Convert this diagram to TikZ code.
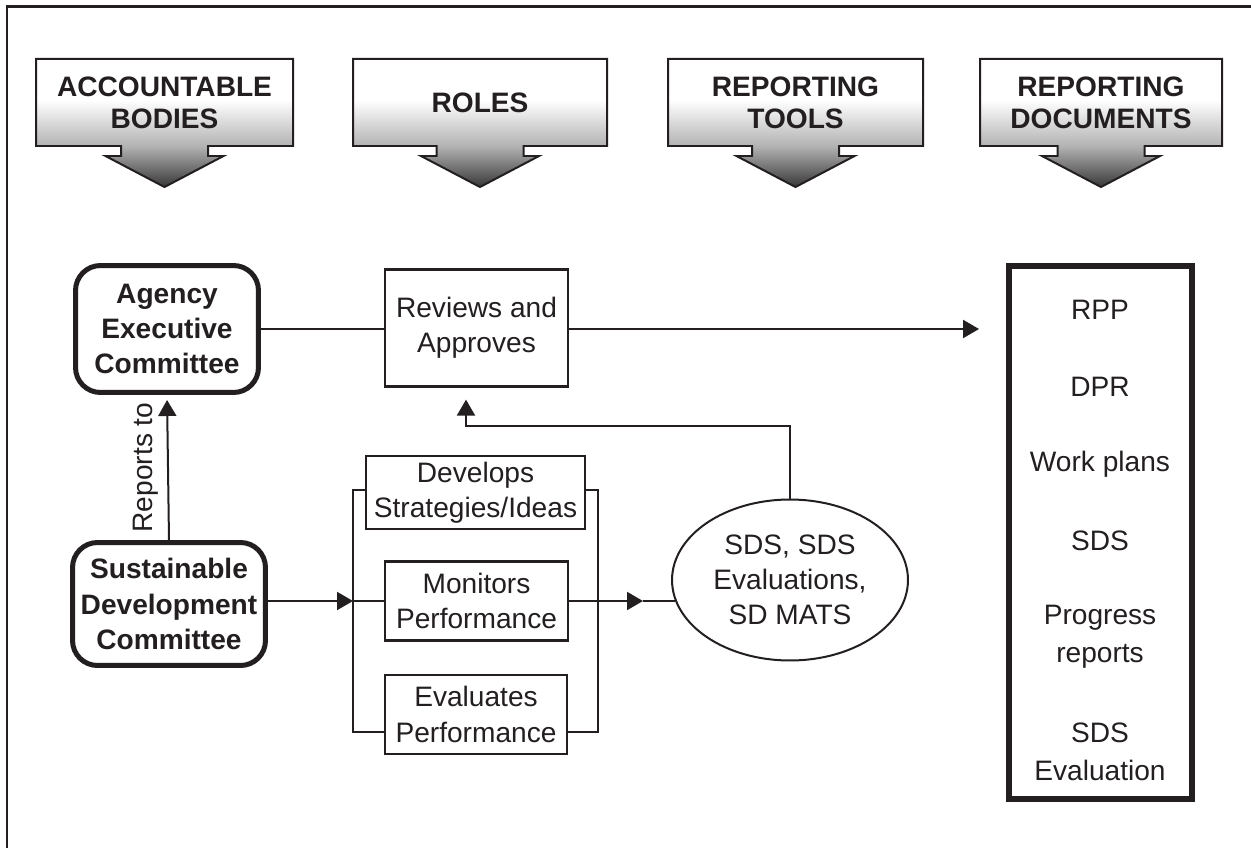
\documentclass[tikz,border=0pt]{standalone}
\usepackage{fontspec}
\setmainfont{Liberation Sans}
\usetikzlibrary{arrows.meta, positioning, calc, shapes.geometric}
\definecolor{inkgray}{RGB}{35, 31, 32}
\pgfdeclareverticalshading{headshade}{100bp}{color(0bp)=(black!78); color(25bp)=(black!78); color(41bp)=(black!30); color(59bp)=(white); color(75bp)=(white); color(100bp)=(white)}
\tikzset{
  headarrow/.style={shading=headshade, draw=inkgray, line width=0.04cm},
  headtext/.style={font=\fontsize{16}{18}\selectfont\bfseries, align=center, text=inkgray},
  bodybox/.style={draw=inkgray, line width=0.1cm, rounded corners=0.5cm, align=center, inner sep=0pt, text=inkgray, font=\fontsize{16}{20}\selectfont\bfseries},
  rolebox/.style={draw=inkgray, line width=0.045cm, fill=white, align=center, inner sep=0pt, text=inkgray, font=\fontsize{16}{20}\selectfont},
  toolnode/.style={ellipse, draw=inkgray, line width=0.04cm, fill=white, align=center, inner sep=0pt, text=inkgray, font=\fontsize{16}{20}\selectfont},
  docitem/.style={align=center, text=inkgray, font=\fontsize{16}{21.8}\selectfont},
  thinline/.style={draw=inkgray, line width=0.04cm},
  conn/.style={thinline, -{Triangle[length=0.32cm, width=0.36cm]}},
}

\begin{document}
\begin{tikzpicture}[x=0.02cm, y=-0.02cm]
\useasboundingbox (0,0) rectangle (1251,848);
% outer frame
\draw[draw=inkgray, line width=0.06cm] (7,848) -- (7,7) -- (1251,7);

% column headers
\foreach \cx/\hw/\lbl [count=\i] in {164.5/128.5/{ACCOUNTABLE\\BODIES}, 480/127/{ROLES}, 795.5/127.5/{REPORTING\\TOOLS}, 1101/121/{REPORTING\\DOCUMENTS}} {
  \shadedraw[headarrow] (\cx-\hw,59) -- (\cx+\hw,59) -- (\cx+\hw,146) -- (\cx+43.5,146) -- (\cx+43.5,156) -- (\cx+59,156) -- (\cx,187) -- (\cx-59,156) -- (\cx-43.5,156) -- (\cx-43.5,146) -- (\cx-\hw,146) -- cycle;
  \node[headtext] (head\i) at (\cx,103) {\lbl};
}

% accountable bodies
\node[bodybox, minimum width=3.66cm, minimum height=2.54cm] (aec) at (167,329) {Agency\\Executive\\Committee};
\node[bodybox, minimum width=3.86cm, minimum height=2.46cm] (sdc) at (169,604) {Sustainable\\Development\\Committee};

% roles
\node[rolebox, minimum width=3.66cm, minimum height=2.34cm] (rev) at (476.5,328) {Reviews and\\Approves};
\node[rolebox, minimum width=4.38cm, minimum height=1.46cm] (dev) at (475.5,492.5) {Develops\\Strategies/Ideas};
\node[rolebox, minimum width=3.66cm, minimum height=1.58cm] (mon) at (476.5,601) {Monitors\\Performance};
\node[rolebox, minimum width=3.64cm, minimum height=1.58cm] (eva) at (476,714.5) {Evaluates\\Performance};

% reporting tools
\node[toolnode, minimum width=4.72cm, minimum height=3.22cm] (ell) at (790,580) {SDS, SDS\\Evaluations,\\SD MATS};

% reporting documents
\node[draw=inkgray, line width=0.12cm, minimum width=3.66cm, minimum height=10.66cm] (docs) at (1100.5,532.5) {};
\node[docitem] (rpp) at (1100,310) {RPP};
\node[docitem] (dpr) at (1100,387) {DPR};
\node[docitem] (wkp) at (1100,464) {Work plans};
\node[docitem] (sds) at (1100,541) {SDS};
\node[docitem] (prg) at (1100,637) {Progress\\reports};
\node[docitem] (sdse) at (1100,752) {SDS\\Evaluation};

% connectors
\coordinate (bl) at (353,490);
\coordinate (br) at (598,490);
\coordinate (bb) at (353,732);
\coordinate (fout) at (643,601);
\coordinate (fb) at (466,426);

\draw[conn, shorten >=0.1cm] (sdc.north) -- (aec.south)
  node[midway, rotate=90, anchor=south, docitem, inner sep=5pt] {Reports to};
\draw[thinline] (aec.east) -- (rev.west |- aec.east);
\draw[conn, shorten >=0.54cm] (rev.east |- aec.east) -- (docs.west |- aec.east);

\draw[thinline] (dev.west |- bl) -- (bl) -- (bb) -- (eva.west |- bb);
\draw[thinline] (dev.east |- br) -- (br) -- (br |- bb) -- (eva.east |- bb);

\draw[conn] (sdc.east |- mon.west) -- (bl |- mon.west);
\draw[thinline] (bl |- mon.west) -- (mon.west);
\draw[conn] (mon.east) -- (fout);
\draw[thinline] (fout) -- (fout -| ell.190);

\draw[conn, shorten >=0.24cm] (ell.north) |- (fb) -- (fb |- rev.south);
\end{tikzpicture}
\end{document}
